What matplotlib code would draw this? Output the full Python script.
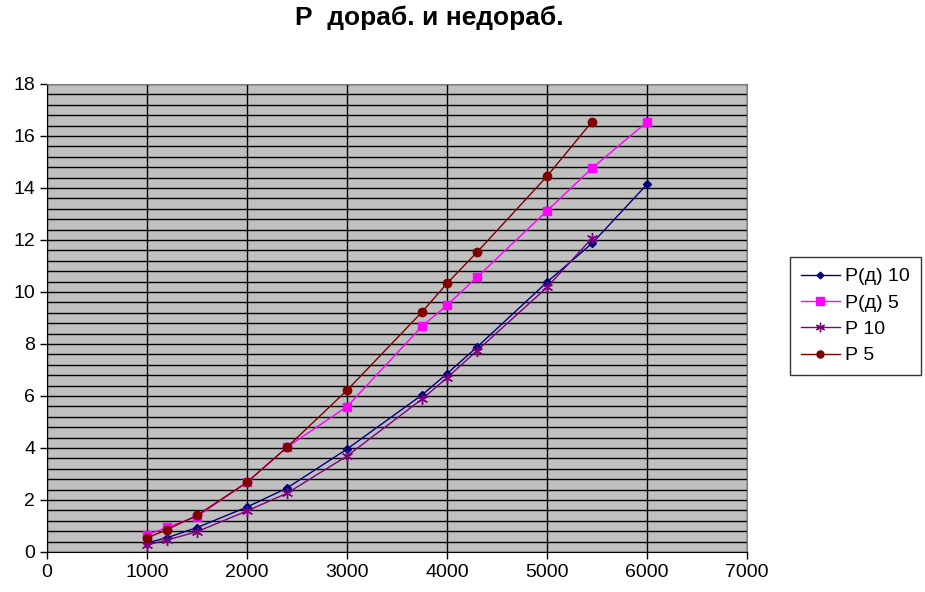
import numpy as np
import matplotlib.pyplot as plt
from matplotlib.ticker import MultipleLocator

plt.rcParams['font.family'] = ['Liberation Sans', 'DejaVu Sans']

# data
x_d10 = [1000, 1200, 1500, 2000, 2400, 3000, 3750, 4000, 4300, 5000, 5450, 6000]
y_d10 = [0.35, 0.55, 0.94, 1.73, 2.46, 3.96, 6.04, 6.86, 7.88, 10.38, 11.87, 14.14]

x_d5 = [1000, 1200, 1500, 2000, 2400, 3000, 3750, 4000, 4300, 5000, 5450, 6000]
y_d5 = [0.65, 0.95, 1.36, 2.68, 4.03, 5.59, 8.68, 9.49, 10.57, 13.12, 14.76, 16.54]

x_p10 = [1000, 1200, 1500, 2000, 2400, 3000, 3750, 4000, 4300, 5000, 5450]
y_p10 = [0.27, 0.46, 0.78, 1.58, 2.26, 3.69, 5.88, 6.70, 7.74, 10.18, 12.07]

x_p5 = [1000, 1200, 1500, 2000, 2400, 3000, 3750, 4000, 4300, 5000, 5450]
y_p5 = [0.54, 0.86, 1.41, 2.68, 4.03, 6.22, 9.23, 10.33, 11.53, 14.45, 16.55]

fig = plt.figure(figsize=(9.25, 5.92), dpi=100)
ax = fig.add_axes([47/925, 40/592, 700/925, 468/592])
ax.set_facecolor('#C0C0C0')

asterisk = (6, 2, 0)
ax.plot(x_d10, y_d10, color='#000080', lw=1, marker='D', ms=4, label='Р(д) 10', zorder=3)
ax.plot(x_d5, y_d5, color='#FF00FF', lw=1, marker='s', ms=6, label='Р(д) 5', zorder=3)
ax.plot(x_p10, y_p10, color='#800080', lw=1, marker=asterisk, ms=8, mew=1, label='Р 10', zorder=3)
ax.plot(x_p5, y_p5, color='#800000', lw=1, marker='o', ms=6, label='Р 5', zorder=3)

ax.set_xlim(0, 7000)
ax.set_ylim(0, 18)
ax.xaxis.set_major_locator(MultipleLocator(1000))
ax.yaxis.set_major_locator(MultipleLocator(2))
ax.yaxis.set_minor_locator(MultipleLocator(0.4))
ax.grid(True, which='major', axis='x', color='black', lw=1)
ax.grid(True, which='both', axis='y', color='black', lw=1)
ax.tick_params(which='minor', length=0)
ax.tick_params(which='major', length=5, width=1, labelsize=14, color='black')
ax.set_axisbelow(True)

for side in ['top', 'right']:
    ax.spines[side].set_color('#808080')
for side in ['left', 'bottom']:
    ax.spines[side].set_color('black')

fig.text(429/925, 1 - 18/592, 'Р  дораб. и недораб.', ha='center', va='center',
         fontsize=19, fontweight='bold')

leg = fig.legend(loc='upper left', bbox_to_anchor=(790/925, 1 - 257/592),
                 fontsize=14, frameon=True, fancybox=False, handlelength=2.0,
                 borderaxespad=0, handletextpad=0.3, labelspacing=0.45,
                 borderpad=0.55, markerscale=0.85)
leg.get_frame().set_edgecolor('black')
leg.get_frame().set_linewidth(1)

plt.savefig('out.png', dpi=100)
